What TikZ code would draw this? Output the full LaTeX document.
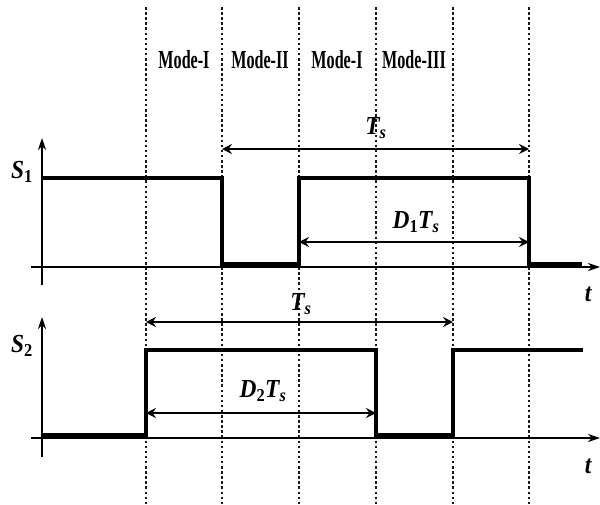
\documentclass[tikz,border=0pt]{standalone}
\usepackage{fontspec}
\setmainfont{Liberation Serif}
\usetikzlibrary{arrows.meta}
\begin{document}
\begin{tikzpicture}[x=1pt,y=-1pt,
  gridline/.style={line width=1.5pt, dash pattern=on 2.5pt off 2.6pt, black!90},
  axisline/.style={line width=1.5pt, -{Stealth[length=12pt,width=8pt]}},
  wave/.style={line width=4.2pt, line join=miter},
  dimline/.style={line width=2.2pt, {Stealth[length=10pt,width=10pt,inset=3.5pt]}-{Stealth[length=10pt,width=10pt,inset=3.5pt]}},
  modelbl/.style={font=\fontsize{26}{26}\selectfont\bfseries, xscale=0.62, inner sep=0pt},
  mathlbl/.style={font=\fontsize{26}{26}\selectfont\bfseries\itshape, xscale=0.9, inner sep=0pt}
]
\useasboundingbox (0,0) rectangle (600,504);
% grid coordinates
\foreach \n/\x in {a/146,b/222,c/299,d/376,e/453,f/529}{
  \coordinate (\n top) at (\x,7);
  \coordinate (\n bot) at (\x,504);
  \draw[gridline] (\n top) -- (\n bot);
}
% mode labels
\node[modelbl] (m1) at (184,60) {Mode-I};
\node[modelbl] (m2) at (260,60) {Mode-II};
\node[modelbl] (m3) at (337,60) {Mode-I};
\node[modelbl] (m4) at (414,60) {Mode-III};
% S1 axes
\coordinate (y1b) at (42,285);
\coordinate (y1t) at (42,138);
\coordinate (x1l) at (31,267);
\coordinate (x1r) at (600,267);
\draw[axisline] (y1b) -- (y1t);
\draw[axisline] (x1l) -- (x1r);
\node[mathlbl] (s1) at (22,172) {S\textsubscript{\upshape 1}};
\node[mathlbl] (t1) at (588,294) {t};
% S1 waveform
\draw[wave] (42,178) -- (222,178) -- (222,264) -- (299,264) -- (299,178) -- (529,178) -- (529,264) -- (582,264);
% S1 dimensions
\coordinate (ts1l) at (222,149);
\coordinate (ts1r) at (529,149);
\draw[dimline] (ts1l) -- (ts1r);
\node[mathlbl] (ts1) at (376,128) {T\textsubscript{s}};
\coordinate (d1l) at (299,242);
\coordinate (d1r) at (529,242);
\draw[dimline] (d1l) -- (d1r);
\node[mathlbl] (d1) at (416,222) {D\textsubscript{\upshape 1}T\textsubscript{s}};
% S2 axes
\coordinate (y2b) at (42,457);
\coordinate (y2t) at (42,317);
\coordinate (x2l) at (31,438);
\coordinate (x2r) at (600,438);
\draw[axisline] (y2b) -- (y2t);
\draw[axisline] (x2l) -- (x2r);
\node[mathlbl] (s2) at (22,346) {S\textsubscript{\upshape 2}};
\node[mathlbl] (t2) at (588,466) {t};
% S2 waveform
\draw[wave] (42,435) -- (146,435) -- (146,350) -- (376,350) -- (376,435) -- (453,435) -- (453,350) -- (583,350);
% S2 dimensions
\coordinate (ts2l) at (146,322);
\coordinate (ts2r) at (453,322);
\draw[dimline] (ts2l) -- (ts2r);
\node[mathlbl] (ts2) at (301,304) {T\textsubscript{s}};
\coordinate (d2l) at (146,413);
\coordinate (d2r) at (376,413);
\draw[dimline] (d2l) -- (d2r);
\node[mathlbl] (d2) at (263,391) {D\textsubscript{\upshape 2}T\textsubscript{s}};
\end{tikzpicture}
\end{document}
